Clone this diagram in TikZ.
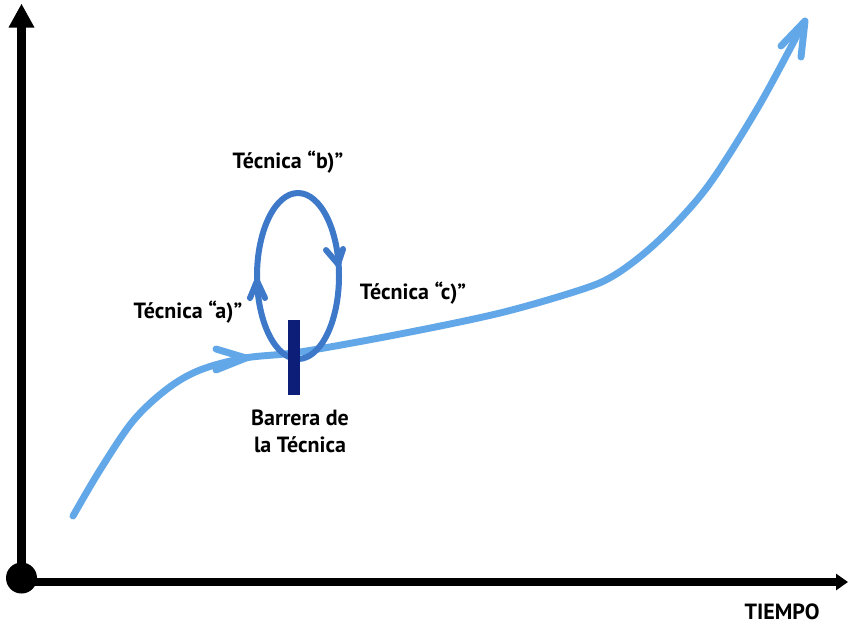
\documentclass[tikz,border=0pt]{standalone}
\usepackage{fontspec}
\setmainfont{PT Sans}
\usetikzlibrary{arrows.meta}
\definecolor{curveblue}{RGB}{98,168,232}
\definecolor{loopblue}{RGB}{62,120,200}
\definecolor{barnavy}{RGB}{12,30,120}
\tikzset{
  lbl/.style={font=\bfseries\fontsize{16.5}{19}\selectfont, text=black, inner sep=0pt, align=center},
  axis/.style={line width=6.7pt, black},
  growth/.style={line width=5.2pt, curveblue, line cap=round, line join=round},
  loop/.style={line width=4.5pt, loopblue, line cap=round, line join=round},
}
\begin{document}
\begin{tikzpicture}[x=0.75pt,y=-0.75pt]
\useasboundingbox (0,0) rectangle (849,626);
\fill[white] (0,0) rectangle (849,626);
% axes
\coordinate (O) at (21.5,578);
\coordinate (Ytop) at (21.5,4);
\coordinate (Xend) at (848,582);
\draw[axis] (21.5,578) -- (21.5,26);
\fill[black] (Ytop) -- (8.5,27.5) -- (34.5,27.5) -- cycle;
\draw[axis, -{Triangle[length=9pt,width=12pt]}] (21.5,582) -- (Xend);
\fill[black] (O) circle[radius=15.5];
\node[lbl, anchor=base] (tiempo) at (782,619) {TIEMPO};
% growth curve
\draw[growth] plot[smooth, tension=0.55] coordinates {(73,516) (100,470) (133,421) (167,389) (200,370) (245,358) (300,352) (400,334) (500,313) (580,290) (613,276) (647,251) (680,219) (713,179) (760,104) (803,24)};
\draw[growth] (216,349) -- (246,358) -- (216,370);
\draw[growth] (781,46) -- (805,21) -- (801,57);
% loop
\coordinate (L) at (298,276);
\draw[loop] (L) ellipse[x radius=41, y radius=83];
\draw[loop] (250,298) -- (257,281) -- (265,298);
\draw[loop] (326,250) -- (338,264) -- (343,249);
% barrier
\fill[barnavy] (288,320) rectangle (300,395);
% labels
\node[lbl] (tb) at (288,162) {Técnica “b)”};
\node[lbl] (ta) at (188,312) {Técnica “a)”};
\node[lbl] (tc) at (413,293) {Técnica “c)”};
\node[lbl] (bar) at (300,431) {Barrera de\\[1pt]la Técnica};
\end{tikzpicture}
\end{document}
